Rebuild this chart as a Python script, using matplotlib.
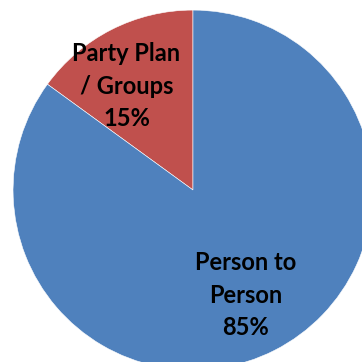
import matplotlib.pyplot as plt

categories = ["Party Plan\n/ Groups", "Person to\nPerson"]
shares = [15, 85]
colors = ["#C0504D", "#4F81BD"]

fig = plt.figure(figsize=(3.62, 3.62), dpi=100)
ax = fig.add_axes([0, 0, 1, 1])

wedges, texts = ax.pie(
    shares,
    colors=colors,
    startangle=90,
    radius=1.0,
    labels=[f"{c}\n{v}%" for c, v in zip(categories, shares)],
    labeldistance=0.67,
    wedgeprops=dict(edgecolor="white", linewidth=0.4),
    textprops=dict(fontsize=17, fontweight="bold", family="Lato", color="black"),
)
# small nudges so the labels sit where the inside-end labels go
nudges = [(-0.065, -0.02), (-0.01, 0.012)]
for t, (dx, dy) in zip(texts, nudges):
    x, y = t.get_position()
    t.set_position((x + dx, y + dy))
    t.set_ha("center")
    t.set_va("center")
    t.set_linespacing(1.5)

# pie is larger than the canvas, so it gets clipped on the right and bottom
ax.set_xlim(-1.072, 0.939)
ax.set_ylim(-0.956, 1.056)
ax.set_aspect("equal")
ax.axis("off")

fig.savefig("out.png", dpi=100, facecolor="white")
